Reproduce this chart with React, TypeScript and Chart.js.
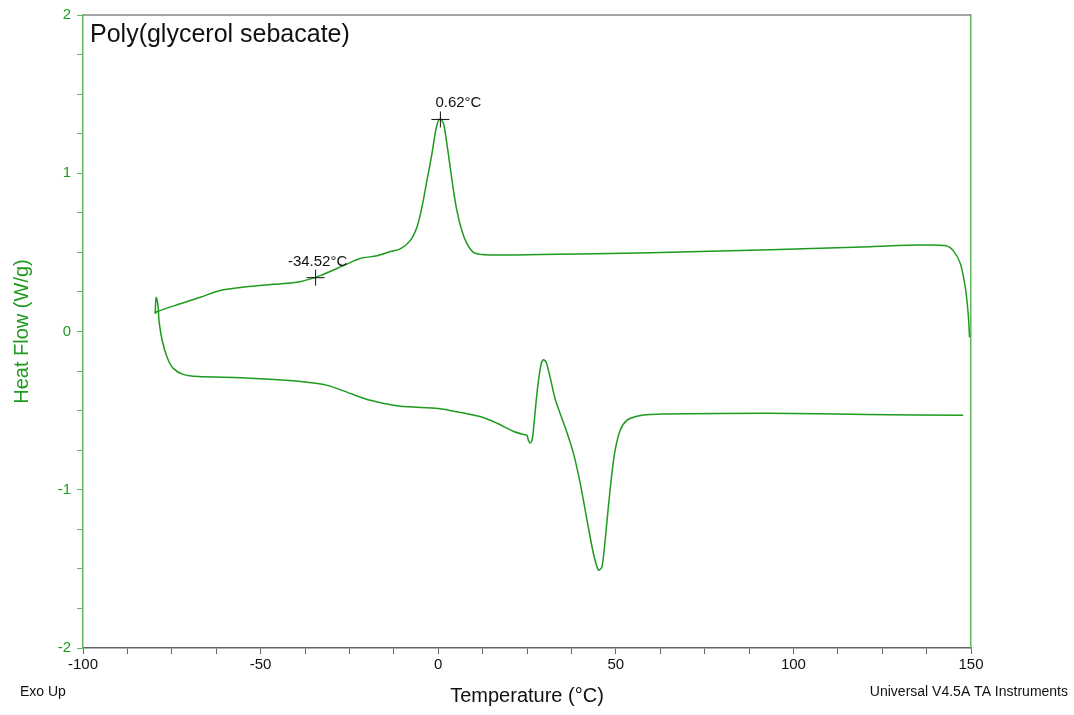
import React, { useEffect, useRef } from "react";
import { Chart, registerables } from "chart.js";

Chart.register(...registerables);

// Cooling run (upper trace), in path order from 150 °C down to -80 °C
const coolingTemp = [149.6, 149.2, 148.4, 147.0, 145.0, 142.7, 135.7, 121.6, 93.5, 59.7, 28.7, 14.5, 12.3, 9.94, 8.08, 6.67, 5.26, 4.31, 3.38, 2.45, 1.6, 1.0, 0.56, 0.1, -0.4, -0.9, -1.77, -3.18, -4.59, -6.0, -7.88, -10.7, -13.5, -17.2, -22.0, -26.7, -33.2, -38.9, -46.5, -55.7, -61.4, -67.0, -72.6, -79.1, -79.7];
const coolingHF = [-0.038, 0.114, 0.278, 0.429, 0.511, 0.543, 0.546, 0.536, 0.517, 0.498, 0.486, 0.483, 0.486, 0.5, 0.555, 0.637, 0.764, 0.89, 1.037, 1.186, 1.305, 1.336, 1.343, 1.335, 1.3, 1.245, 1.123, 0.953, 0.784, 0.658, 0.574, 0.522, 0.505, 0.479, 0.461, 0.416, 0.353, 0.315, 0.298, 0.278, 0.259, 0.216, 0.175, 0.126, 0.114];

// Heating run (lower trace), from -80 °C up to 148 °C
const heatingTemp = [-79.7, -79.4, -78.9, -78.6, -77.7, -76.3, -74.6, -71.8, -67.6, -55.7, -45, -35, -30.4, -24.8, -19.1, -10.7, 0, 6.19, 12.67, 16.6, 21.1, 23.6, 24.5, 25.0, 25.4, 25.9, 26.4, 26.8, 27.6, 28.24, 29.0, 29.65, 30.4, 31.5, 32.9, 34.35, 36.2, 38.1, 40.0, 41.9, 43.7, 45.1, 46.1, 47.0, 47.9, 48.9, 49.8, 51.2, 53.1, 55.9, 59.7, 92.6, 120.8, 147.8];
const heatingHF = [0.114, 0.215, 0.17, 0.069, -0.057, -0.164, -0.233, -0.271, -0.285, -0.292, -0.305, -0.325, -0.345, -0.391, -0.435, -0.473, -0.486, -0.511, -0.543, -0.58, -0.63, -0.648, -0.652, -0.656, -0.688, -0.705, -0.688, -0.625, -0.435, -0.309, -0.204, -0.179, -0.194, -0.288, -0.425, -0.519, -0.635, -0.772, -0.961, -1.192, -1.403, -1.508, -1.487, -1.319, -1.109, -0.898, -0.751, -0.625, -0.562, -0.536, -0.524, -0.517, -0.524, -0.53];

// Marked points
const markerTemp = [-34.52, 0.62];
const markerHF = [0.34, 1.34];
const markerLabels = ["-34.52°C", "0.62°C"];
const markerLabelDx = [2, 18];

const xTickMajor = [-100, -50, 0, 50, 100, 150];
const yTickMajor = [-2, -1, 0, 1, 2];

const chartTitle = "Poly(glycerol sebacate)";
const xTitle = "Temperature (°C)";
const yTitle = "Heat Flow (W/g)";
const footLeft = "Exo Up";
const footRight = "Universal V4.5A TA Instruments";

const GREEN = "#1e9a1e";
const AXIS_GREEN = "#5fb85f";
const FONT = "'Liberation Sans', Arial, sans-serif";

export default function App() {
  const ref = useRef<HTMLCanvasElement | null>(null);

  useEffect(() => {
    if (!ref.current) return;
    const toPts = (xs: number[], ys: number[]) => xs.map((x, i) => ({ x, y: ys[i] }));

    const overlay = {
      id: "overlay",
      afterDatasetsDraw(chart: any) {
        const { ctx, chartArea, scales } = chart;
        ctx.save();
        // top border
        ctx.strokeStyle = "#888";
        ctx.lineWidth = 1.5;
        ctx.beginPath();
        ctx.moveTo(chartArea.left, chartArea.top);
        ctx.lineTo(chartArea.right, chartArea.top);
        ctx.stroke();
        // markers
        ctx.strokeStyle = "#111";
        ctx.lineWidth = 1;
        ctx.fillStyle = "#111";
        ctx.font = `15px ${FONT}`;
        ctx.textAlign = "center";
        ctx.textBaseline = "alphabetic";
        markerTemp.forEach((t, i) => {
          const px = scales.x.getPixelForValue(t);
          const py = scales.y.getPixelForValue(markerHF[i]);
          ctx.beginPath();
          ctx.moveTo(px - 9, py);
          ctx.lineTo(px + 9, py);
          ctx.moveTo(px, py - 8);
          ctx.lineTo(px, py + 8);
          ctx.stroke();
          ctx.fillText(markerLabels[i], px + markerLabelDx[i], py - 12);
        });
        // texts
        ctx.fillStyle = "#111";
        ctx.textAlign = "left";
        ctx.textBaseline = "middle";
        ctx.font = `25px ${FONT}`;
        ctx.fillText(chartTitle, chartArea.left + 7, chartArea.top + 20);
        ctx.font = `14px ${FONT}`;
        ctx.fillText(footLeft, 20, 692);
        ctx.textAlign = "right";
        ctx.fillText(footRight, 1068, 692);
        ctx.restore();
      },
    };

    const chart = new Chart(ref.current, {
      type: "scatter",
      data: {
        datasets: [
          {
            data: toPts(coolingTemp, coolingHF),
            showLine: true,
            borderColor: GREEN,
            borderWidth: 1.5,
            pointRadius: 0,
            tension: 0.3,
            fill: false,
          },
          {
            data: toPts(heatingTemp, heatingHF),
            showLine: true,
            borderColor: GREEN,
            borderWidth: 1.5,
            pointRadius: 0,
            tension: 0.25,
            fill: false,
          },
        ],
      },
      options: {
        responsive: false,
        animation: false,
        layout: { padding: { top: 14, left: 0, right: 0, bottom: 0 } },
        plugins: { legend: { display: false }, tooltip: { enabled: false } },
        scales: {
          x: {
            type: "linear",
            min: -100,
            max: 150,
            afterFit: (s: any) => { s.height = 67; },
            ticks: {
              stepSize: 12.5,
              autoSkip: false,
              maxRotation: 0,
              padding: 2,
              color: "#111",
              font: { size: 15, family: FONT },
              callback: (v: any) => (xTickMajor.includes(Number(v)) ? String(v) : ""),
            },
            grid: { drawOnChartArea: false, drawTicks: true, tickLength: 6, color: "#666" },
            border: { color: "#666", width: 1.5 },
            title: {
              display: true,
              text: xTitle,
              color: "#111",
              font: { size: 20, family: FONT },
              padding: { top: 0, bottom: 7 },
            },
          },
          y: {
            type: "linear",
            min: -2,
            max: 2,
            afterFit: (s: any) => { s.width = 83; },
            ticks: {
              stepSize: 0.25,
              autoSkip: false,
              padding: 6,
              color: GREEN,
              font: { size: 15, family: FONT },
              callback: (v: any) => (yTickMajor.includes(Number(v)) ? String(v) : ""),
            },
            grid: { drawOnChartArea: false, drawTicks: true, tickLength: 6, color: AXIS_GREEN },
            border: { color: AXIS_GREEN, width: 1.5 },
            title: {
              display: true,
              text: yTitle,
              color: GREEN,
              font: { size: 20, family: FONT },
              padding: { top: 10, bottom: 0 },
            },
          },
          y2: {
            type: "linear",
            position: "right",
            min: -2,
            max: 2,
            afterFit: (s: any) => { s.width = 103; },
            ticks: { display: false },
            grid: { display: false, drawTicks: false },
            border: { display: true, color: AXIS_GREEN, width: 1.5 },
          },
        },
      },
      plugins: [overlay],
    } as any);

    return () => chart.destroy();
  }, []);

  return (
    <div style={{ position: "absolute", left: 0, top: 0, width: 1074, height: 715, background: "#fff" }}>
      <canvas ref={ref} width={1074} height={715} style={{ width: 1074, height: 715 }} />
    </div>
  );
}
